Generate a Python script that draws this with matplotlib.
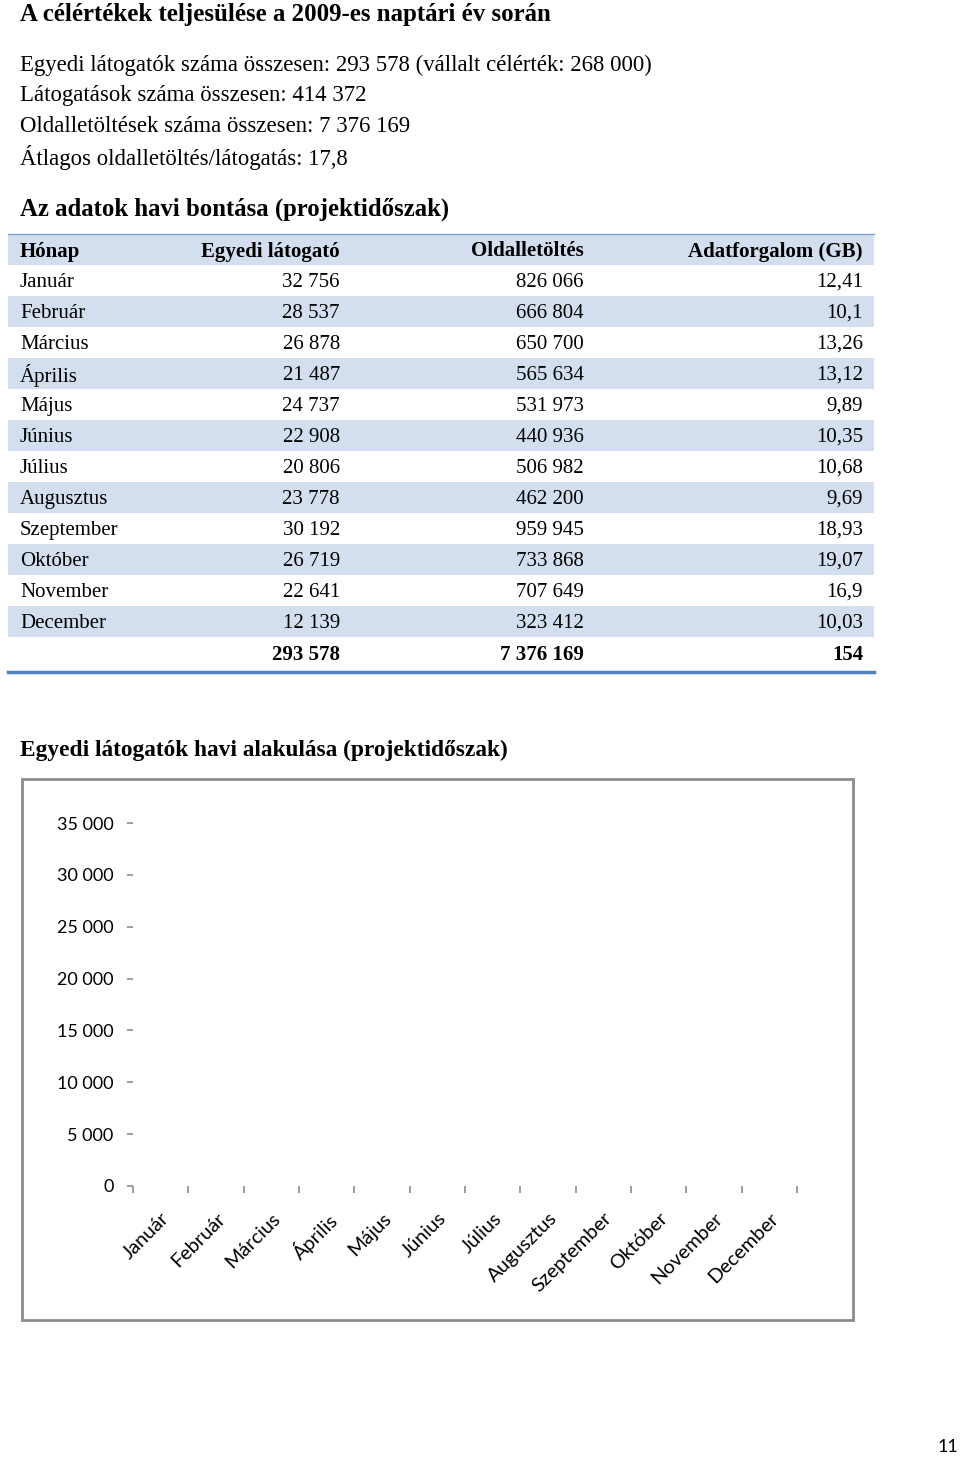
import matplotlib
matplotlib.use('Agg')
import matplotlib.pyplot as plt
from matplotlib.patches import Rectangle

# data
summary_lines = [
    'Egyedi látogatók száma összesen: 293 578 (vállalt célérték: 268 000)',
    'Látogatások száma összesen: 414 372',
    'Oldalletöltések száma összesen: 7 376 169',
    'Átlagos oldalletöltés/látogatás: 17,8',
]
col_headers = ['Hónap', 'Egyedi látogató', 'Oldalletöltés', 'Adatforgalom (GB)']
months = ['Január', 'Február', 'Március', 'Április', 'Május', 'Június',
          'Július', 'Augusztus', 'Szeptember', 'Október', 'November', 'December']
visitors = [32756, 28537, 26878, 21487, 24737, 22908, 20806, 23778, 30192, 26719, 22641, 12139]
pageloads = [826066, 666804, 650700, 565634, 531973, 440936, 506982, 462200, 959945, 733868, 707649, 323412]
traffic = [12.41, 10.1, 13.26, 13.12, 9.89, 10.35, 10.68, 9.69, 18.93, 19.07, 16.9, 10.03]
total_visitors = 293578
total_pageloads = 7376169
total_traffic = 154
y_ticks = [0, 5000, 10000, 15000, 20000, 25000, 30000, 35000]


def hu(v):
    if isinstance(v, float):
        return str(v).replace('.', ',')
    return f'{v:,}'.replace(',', ' ')


W, H = 960, 1457
fig = plt.figure(figsize=(W / 100, H / 100), dpi=100)
fig.patch.set_facecolor('white')

# page axes in pixel coordinates
pg = fig.add_axes([0, 0, 1, 1])
pg.set_xlim(0, W)
pg.set_ylim(H, 0)
pg.axis('off')

serif = 'Liberation Serif'
pg.text(20, 12, 'A célértékek teljesülése a 2009-es naptári év során',
        fontsize=17.9, fontweight='bold', family=serif, va='center_baseline')
for i, line in enumerate(summary_lines):
    pg.text(20, 63 + i * 30.5, line, fontsize=16.4, family=serif,
            va='center_baseline')
pg.text(20, 207, 'Az adatok havi bontása (projektidőszak)',
        fontsize=17.8, fontweight='bold', family=serif, va='center_baseline')

# table
row_h = 31
row0 = 249
tab_l, tab_r = 8, 874
col_x = [20, 340, 584, 863]
col_ha = ['left', 'right', 'right', 'right']
shade = '#d3dfee'

rows = [col_headers]
for m, v, p, t in zip(months, visitors, pageloads, traffic):
    rows.append([m, hu(v), hu(p), hu(t)])
rows.append(['', hu(total_visitors), hu(total_pageloads), hu(total_traffic)])

for i, row in enumerate(rows):
    yc = row0 + i * row_h
    if i % 2 == 0 and i < len(rows) - 1:
        pg.add_patch(Rectangle((tab_l, yc - row_h / 2), tab_r - tab_l, row_h,
                               facecolor=shade, edgecolor='none'))
    bold = (i == 0 or i == len(rows) - 1)
    for x, ha, txt in zip(col_x, col_ha, row):
        pg.text(x, yc, txt, fontsize=15, family=serif, ha=ha,
                va='center_baseline', fontweight='bold' if bold else 'normal')

pg.plot([tab_l, tab_r], [row0 - row_h / 2, row0 - row_h / 2], color='#7ba0cd', lw=1)
bot = row0 + (len(rows) - 1) * row_h + 20
pg.plot([tab_l, tab_r], [bot, bot], color='#4f81bd', lw=2.5)

pg.text(20, 748, 'Egyedi látogatók havi alakulása (projektidőszak)',
        fontsize=16.8, fontweight='bold', family=serif, va='center_baseline')

# chart frame
pg.add_patch(Rectangle((22, 779), 853 - 22, 1320 - 779, facecolor='none',
                       edgecolor='#8c8c8c', lw=2))

pg.text(948, 1447, '11', fontsize=13, family='Lato', ha='center', va='center')

# chart (no bars visible in the original)
x0, x1, y0, y1 = 133, 797, 1186, 823
ax = fig.add_axes([x0 / W, 1 - y0 / H, (x1 - x0) / W, (y0 - y1) / H])
ax.patch.set_alpha(0)
ax.set_xlim(-0.5, len(months) - 0.5)
ax.set_ylim(0, 35000)
for s in ax.spines.values():
    s.set_visible(False)
ax.set_yticks(y_ticks)
ax.set_yticklabels([hu(v) for v in y_ticks], fontsize=13, family='Lato')
ax.tick_params(axis='y', length=4, width=1.2, color='#8c8c8c', pad=10)
ax.set_xticks(range(len(months)))
ax.set_xticklabels(months, rotation=45, ha='right', rotation_mode='anchor',
                   fontsize=14.3, family='Lato')
ax.tick_params(axis='x', which='major', length=0, pad=17)
ax.set_xticks([i - 0.5 for i in range(len(months) + 1)], minor=True)
ax.tick_params(axis='x', which='minor', length=5, width=1.2, color='#8c8c8c',
               direction='out')

fig.savefig('out.png', dpi=100)
